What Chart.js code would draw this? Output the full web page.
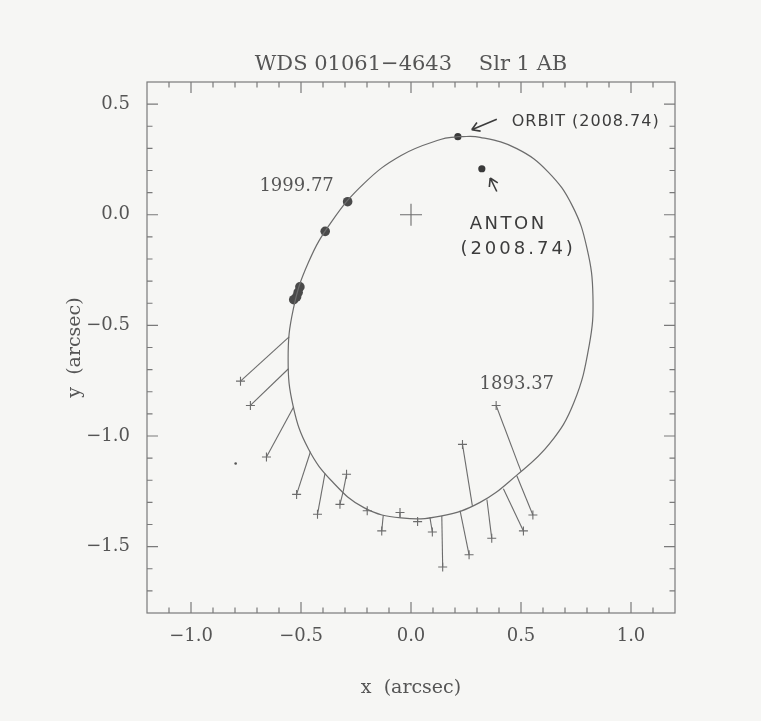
<!DOCTYPE html>
<html>
<head>
<meta charset="utf-8">
<script src="https://cdn.jsdelivr.net/npm/chart.js@4.4.1/dist/chart.umd.min.js"></script>
<style>
  html, body { margin: 0; padding: 0; background: #f6f6f4; }
  #wrap { width: 761px; height: 721px; }
</style>
</head>
<body>
<div id="wrap"><canvas id="orbit" width="761" height="721"></canvas></div>
<script>
// orbit ellipse (arcsec); starts and ends under the 2008.74 dot
const orbitX = [0.213, 0.314, 0.481, 0.624, 0.734, 0.80, 0.827, 0.81, 0.74, 0.63, 0.481, 0.314,
  0.134, -0.045, -0.212, -0.356, -0.466, -0.535, -0.5585, -0.535, -0.466, -0.36, -0.212, -0.045, 0.134, 0.213];
const orbitY = [0.353, 0.350, 0.299, 0.193, 0.039, -0.152, -0.368, -0.59, -0.85, -1.035, -1.177, -1.30,
  -1.362, -1.37, -1.325, -1.208, -1.059, -0.868, -0.652, -0.427, -0.215, -0.03, 0.143, 0.268, 0.340, 0.353];

// old micrometer measures (+) and their predicted places on the orbit
const obsX  = [-0.775, -0.73, -0.657, -0.52, -0.425, -0.293, -0.323, -0.199, -0.133, -0.05, 0.03, 0.097, 0.144, 0.264, 0.234, 0.367, 0.511, 0.554, 0.387];
const obsY  = [-0.752, -0.862, -1.095, -1.264, -1.354, -1.173, -1.309, -1.338, -1.429, -1.346, -1.387, -1.434, -1.592, -1.537, -1.038, -1.462, -1.429, -1.357, -0.862];
const predX = [-0.554, -0.557, -0.533, -0.457, -0.391, -0.308, -0.308, -0.205, -0.126, -0.05, 0.03, 0.086, 0.14, 0.223, 0.279, 0.345, 0.42, 0.481, 0.50];
const predY = [-0.552, -0.696, -0.868, -1.071, -1.169, -1.25, -1.25, -1.326, -1.357, -1.371, -1.376, -1.368, -1.362, -1.337, -1.316, -1.287, -1.238, -1.18, -1.16];

// recent speckle measures (filled dots)
const recentX = [-0.288, -0.39, -0.505, -0.513, -0.52, -0.533];
const recentY = [0.059, -0.075, -0.326, -0.351, -0.371, -0.384];

// single stray point
const strayX = [-0.797];
const strayY = [-1.124];

// 2008.74: orbit prediction and Anton's measure
const orbitNowX = [0.213], orbitNowY = [0.353];
const antonX = [0.322], antonY = [0.208];

// axis ticks
const xTicks = [-1.0, -0.5, 0.0, 0.5, 1.0];
const yTicks = [-1.5, -1.0, -0.5, 0.0, 0.5];

// printed epoch labels
const epochText = ['1999.77', '1893.37'];
const epochX = [-0.52, 0.481];
const epochY = [0.128, -0.767];

// handwritten notes
const noteText = ['ORBIT (2008.74)', 'ANTON', '(2008.74)'];
const noteX = [0.458, 0.442, 0.487];
const noteY = [0.421, -0.045, -0.158];
const arrowFromX = [0.39, 0.39], arrowFromY = [0.432, 0.105];
const arrowToX = [0.276, 0.36], arrowToY = [0.384, 0.166];

const titleText = 'WDS 01061\u22124643    Slr 1 AB';

const ink = '#555555';
const lineInk = '#6c6c6c';
const serif = "'DejaVu Serif', 'Liberation Serif', serif";

function pts(xs, ys) { return xs.map((x, i) => ({ x: x, y: ys[i] })); }
function fmt(v) { return Number(v).toFixed(1).replace('-', '\u2212'); }

const datasets = [];
datasets.push({
  data: pts(orbitX, orbitY), showLine: true, tension: 0.42, pointRadius: 0,
  borderColor: lineInk, borderWidth: 1.2
});
obsX.forEach((x, i) => {
  datasets.push({
    data: [{ x: predX[i], y: predY[i] }, { x: x, y: obsY[i] }], showLine: true, pointRadius: 0,
    borderColor: lineInk, borderWidth: 1.1
  });
});
datasets.push({ data: pts(obsX, obsY), pointStyle: 'cross', pointRadius: 4.5, borderColor: lineInk, borderWidth: 1.1 });
datasets.push({ data: [{ x: 0, y: 0 }], pointStyle: 'cross', pointRadius: 11, borderColor: lineInk, borderWidth: 1.1 });
datasets.push({ data: pts(recentX, recentY), pointRadius: 4.8, backgroundColor: '#4a4a4a', borderColor: '#4a4a4a', borderWidth: 0 });
datasets.push({ data: pts(orbitNowX, orbitNowY), pointRadius: 3.6, backgroundColor: '#3a3a3a', borderWidth: 0 });
datasets.push({ data: pts(antonX, antonY), pointRadius: 3.6, backgroundColor: '#3a3a3a', borderWidth: 0 });
datasets.push({ data: pts(strayX, strayY), pointRadius: 1.3, backgroundColor: '#555', borderWidth: 0 });

const pageBg = {
  id: 'pageBg',
  beforeDraw(chart) {
    const c = chart.ctx;
    c.save();
    c.fillStyle = '#f6f6f4';
    c.fillRect(0, 0, chart.width, chart.height);
    c.restore();
  }
};

// box with inward ticks on all four sides, plus the title centred on the box
const frame = {
  id: 'frame',
  afterDatasetsDraw(chart) {
    const c = chart.ctx, a = chart.chartArea;
    const sx = chart.scales.x, sy = chart.scales.y;
    c.save();
    c.strokeStyle = '#7a7a7a';
    c.lineWidth = 1.2;
    c.strokeRect(a.left, a.top, a.right - a.left, a.bottom - a.top);
    c.beginPath();
    for (let k = -12; k <= 12; k++) {
      const len = (k % 5 === 0) ? 11 : 5.5;
      const px = sx.getPixelForValue(k / 10);
      if (px > a.left + 1 && px < a.right - 1) {
        c.moveTo(px, a.bottom); c.lineTo(px, a.bottom - len);
        c.moveTo(px, a.top); c.lineTo(px, a.top + len);
      }
    }
    for (let k = -18; k <= 6; k++) {
      const len = (k % 5 === 0) ? 11 : 5.5;
      const py = sy.getPixelForValue(k / 10);
      if (py > a.top + 1 && py < a.bottom - 1) {
        c.moveTo(a.left, py); c.lineTo(a.left + len, py);
        c.moveTo(a.right, py); c.lineTo(a.right - len, py);
      }
    }
    c.stroke();
    c.fillStyle = ink;
    c.font = '21px ' + serif;
    c.textAlign = 'center';
    c.textBaseline = 'middle';
    c.fillText(titleText, (a.left + a.right) / 2, 65);
    c.restore();
  }
};

function arrow(c, x1, y1, x2, y2) {
  const ang = Math.atan2(y2 - y1, x2 - x1);
  const h = 9;
  c.beginPath();
  c.moveTo(x1, y1); c.lineTo(x2, y2);
  c.moveTo(x2, y2); c.lineTo(x2 - h * Math.cos(ang - 0.55), y2 - h * Math.sin(ang - 0.55));
  c.moveTo(x2, y2); c.lineTo(x2 - h * Math.cos(ang + 0.55), y2 - h * Math.sin(ang + 0.55));
  c.stroke();
}

const notes = {
  id: 'notes',
  afterDatasetsDraw(chart) {
    const c = chart.ctx;
    const sx = chart.scales.x, sy = chart.scales.y;
    c.save();
    // printed epochs
    c.fillStyle = ink;
    c.font = '18px ' + serif;
    c.textAlign = 'center';
    c.textBaseline = 'middle';
    epochText.forEach((t, i) => c.fillText(t, sx.getPixelForValue(epochX[i]), sy.getPixelForValue(epochY[i])));
    // handwriting
    c.fillStyle = '#3c3c3c';
    c.strokeStyle = '#3c3c3c';
    c.lineWidth = 1.6;
    c.textAlign = 'left';
    c.font = "16px 'DejaVu Sans', sans-serif";
    c.letterSpacing = '1px';
    c.fillText(noteText[0], sx.getPixelForValue(noteX[0]), sy.getPixelForValue(noteY[0]));
    c.textAlign = 'center';
    c.font = "18px 'DejaVu Sans', sans-serif";
    c.letterSpacing = '2.5px';
    c.fillText(noteText[1], sx.getPixelForValue(noteX[1]), sy.getPixelForValue(noteY[1]));
    c.letterSpacing = '3px';
    c.fillText(noteText[2], sx.getPixelForValue(noteX[2]), sy.getPixelForValue(noteY[2]));
    c.letterSpacing = '0px';
    arrowFromX.forEach((x, i) => arrow(c,
      sx.getPixelForValue(x), sy.getPixelForValue(arrowFromY[i]),
      sx.getPixelForValue(arrowToX[i]), sy.getPixelForValue(arrowToY[i])));
    c.restore();
  }
};

new Chart(document.getElementById('orbit'), {
  type: 'scatter',
  data: { datasets: datasets },
  options: {
    responsive: false,
    animation: false,
    layout: { padding: { left: 0, right: 86, top: 82, bottom: 0 } },
    plugins: {
      legend: { display: false },
      tooltip: { enabled: false },
      title: { display: false }
    },
    scales: {
      x: {
        type: 'linear', min: -1.2, max: 1.2,
        afterBuildTicks: s => { s.ticks = xTicks.map(v => ({ value: v })); },
        afterFit: s => { s.height = 108; },
        grid: { display: false },
        border: { display: false },
        ticks: { padding: 5, color: ink, font: { family: serif, size: 18 }, maxRotation: 0, autoSkip: false, callback: fmt },
        title: { display: true, text: 'x  (arcsec)', color: ink, font: { family: serif, size: 19 }, padding: { bottom: 22 } }
      },
      y: {
        type: 'linear', min: -1.8, max: 0.6,
        afterBuildTicks: s => { s.ticks = yTicks.map(v => ({ value: v })); },
        afterFit: s => { s.width = 147; },
        grid: { display: false },
        border: { display: false },
        ticks: { padding: 9, color: ink, font: { family: serif, size: 18 }, autoSkip: false, callback: fmt },
        title: { display: true, text: 'y  (arcsec)', color: ink, font: { family: serif, size: 19 }, padding: { top: 64 } }
      }
    }
  },
  plugins: [pageBg, frame, notes]
});
</script>
</body>
</html>
